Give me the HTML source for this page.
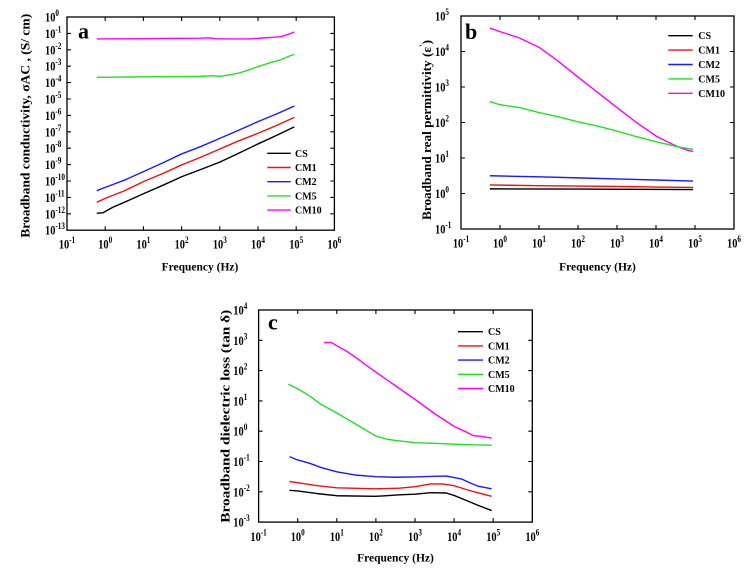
<!DOCTYPE html>
<html>
<head>
<meta charset="utf-8">
<style>
  html,body{margin:0;padding:0;background:#fff;}
  svg{display:block;}
  text{font-family:"Liberation Serif","Times New Roman",serif;font-weight:bold;fill:#000;}
  .tl{font-size:13px;}
  .sup{font-size:9px;}
  .lg{font-size:10px;}
  .ttl{font-size:11.5px;}
  .yt{font-size:13px;}
  .let{font-size:22px;}
  .frame{fill:none;stroke:#000;stroke-width:1.3;}
  .tick{fill:none;stroke:#000;stroke-width:1.1;}
  .s{fill:none;stroke-width:1.4;vector-effect:non-scaling-stroke;stroke-linejoin:round;}
</style>
</head>
<body>
<svg width="756" height="578" viewBox="0 0 756 578" xmlns="http://www.w3.org/2000/svg">
<rect width="756" height="578" fill="#fff"/>

<!-- ================= PANEL A ================= -->
<rect class="frame" x="67" y="17" width="267.4" height="213.2"/>
<path class="tick" d="
M105.2 230.2v-4 M143.4 230.2v-4 M181.6 230.2v-4 M219.8 230.2v-4 M258 230.2v-4 M296.2 230.2v-4
M105.2 17v4 M143.4 17v4 M181.6 17v4 M219.8 17v4 M258 17v4 M296.2 17v4
M67 33.4h4 M67 49.8h4 M67 66.2h4 M67 82.6h4 M67 99h4 M67 115.4h4 M67 131.8h4 M67 148.2h4 M67 164.6h4 M67 181h4 M67 197.4h4 M67 213.8h4
M334.4 33.4h-4 M334.4 49.8h-4 M334.4 66.2h-4 M334.4 82.6h-4 M334.4 99h-4 M334.4 115.4h-4 M334.4 131.8h-4 M334.4 148.2h-4 M334.4 164.6h-4 M334.4 181h-4 M334.4 197.4h-4 M334.4 213.8h-4"/>
<g transform="translate(45,21.5) scale(0.8,1)"><text class="tl">10<tspan class="sup" dy="-5.5">0</tspan></text></g>
<g transform="translate(45,37.9) scale(0.8,1)"><text class="tl">10<tspan class="sup" dy="-5.5">-1</tspan></text></g>
<g transform="translate(45,54.3) scale(0.8,1)"><text class="tl">10<tspan class="sup" dy="-5.5">-2</tspan></text></g>
<g transform="translate(45,70.7) scale(0.8,1)"><text class="tl">10<tspan class="sup" dy="-5.5">-3</tspan></text></g>
<g transform="translate(45,87.1) scale(0.8,1)"><text class="tl">10<tspan class="sup" dy="-5.5">-4</tspan></text></g>
<g transform="translate(45,103.5) scale(0.8,1)"><text class="tl">10<tspan class="sup" dy="-5.5">-5</tspan></text></g>
<g transform="translate(45,119.9) scale(0.8,1)"><text class="tl">10<tspan class="sup" dy="-5.5">-6</tspan></text></g>
<g transform="translate(45,136.3) scale(0.8,1)"><text class="tl">10<tspan class="sup" dy="-5.5">-7</tspan></text></g>
<g transform="translate(45,152.7) scale(0.8,1)"><text class="tl">10<tspan class="sup" dy="-5.5">-8</tspan></text></g>
<g transform="translate(45,169.1) scale(0.8,1)"><text class="tl">10<tspan class="sup" dy="-5.5">-9</tspan></text></g>
<g transform="translate(45,185.5) scale(0.8,1)"><text class="tl">10<tspan class="sup" dy="-5.5">-10</tspan></text></g>
<g transform="translate(45,201.9) scale(0.8,1)"><text class="tl">10<tspan class="sup" dy="-5.5">-11</tspan></text></g>
<g transform="translate(45,218.3) scale(0.8,1)"><text class="tl">10<tspan class="sup" dy="-5.5">-12</tspan></text></g>
<g transform="translate(45,234.7) scale(0.8,1)"><text class="tl">10<tspan class="sup" dy="-5.5">-13</tspan></text></g>
<g transform="translate(67,248.5) scale(0.8,1)"><text class="tl" text-anchor="middle">10<tspan class="sup" dy="-5.5">-1</tspan></text></g>
<g transform="translate(105.2,248.5) scale(0.8,1)"><text class="tl" text-anchor="middle">10<tspan class="sup" dy="-5.5">0</tspan></text></g>
<g transform="translate(143.4,248.5) scale(0.8,1)"><text class="tl" text-anchor="middle">10<tspan class="sup" dy="-5.5">1</tspan></text></g>
<g transform="translate(181.6,248.5) scale(0.8,1)"><text class="tl" text-anchor="middle">10<tspan class="sup" dy="-5.5">2</tspan></text></g>
<g transform="translate(219.8,248.5) scale(0.8,1)"><text class="tl" text-anchor="middle">10<tspan class="sup" dy="-5.5">3</tspan></text></g>
<g transform="translate(258,248.5) scale(0.8,1)"><text class="tl" text-anchor="middle">10<tspan class="sup" dy="-5.5">4</tspan></text></g>
<g transform="translate(296.2,248.5) scale(0.8,1)"><text class="tl" text-anchor="middle">10<tspan class="sup" dy="-5.5">5</tspan></text></g>
<g transform="translate(334.4,248.5) scale(0.8,1)"><text class="tl" text-anchor="middle">10<tspan class="sup" dy="-5.5">6</tspan></text></g>
<text class="ttl" x="200" y="270.5" text-anchor="middle">Frequency (Hz)</text>
<text class="yt" transform="translate(29.5,125.8) rotate(-90)" text-anchor="middle" textLength="224" lengthAdjust="spacingAndGlyphs">Broadband conductivity, σAC , (S/ cm)</text>
<text class="let" x="78" y="38.5">a</text>
<g transform="matrix(38.2 0 0 -16.4 105.2 17)">
<polyline class="s" stroke="#ff00ff" points="-0.22,-1.34 0.5,-1.33 1,-1.32 1.5,-1.31 2,-1.3 2.5,-1.29 2.7,-1.27 2.9,-1.32 3.2,-1.34 3.8,-1.34 4.1,-1.28 4.4,-1.24 4.6,-1.2 4.8,-1.05 4.95,-0.92"/>
<polyline class="s" stroke="#22e022" points="-0.22,-3.68 0.5,-3.66 1,-3.65 1.5,-3.64 2,-3.63 2.5,-3.62 2.8,-3.58 3,-3.62 3.2,-3.55 3.5,-3.42 3.8,-3.2 4,-3.02 4.3,-2.8 4.6,-2.6 4.8,-2.4 4.95,-2.28"/>
<polyline class="s" stroke="#1a1aff" points="-0.22,-10.59 0,-10.39 0.5,-9.95 1,-9.43 1.5,-8.9 2,-8.35 2.5,-7.9 3,-7.4 3.5,-6.9 4,-6.38 4.5,-5.9 4.95,-5.43"/>
<polyline class="s" stroke="#ee1111" points="-0.22,-11.3 0,-11.06 0.5,-10.6 1,-10.04 1.5,-9.55 2,-9.02 2.5,-8.55 3,-8.05 3.5,-7.55 4,-7.09 4.5,-6.6 4.95,-6.12"/>
<polyline class="s" stroke="#000" points="-0.22,-11.97 -0.05,-11.93 0.2,-11.6 0.5,-11.3 1,-10.78 1.5,-10.27 2,-9.74 2.5,-9.3 3,-8.85 3.5,-8.3 4,-7.74 4.5,-7.2 4.95,-6.7"/>
</g>
<g>
<line x1="267.3" y1="153.3" x2="290.7" y2="153.3" stroke="#000" stroke-width="1.4"/>
<line x1="267.3" y1="167.5" x2="290.7" y2="167.5" stroke="#ee1111" stroke-width="1.4"/>
<line x1="267.3" y1="181.7" x2="290.7" y2="181.7" stroke="#1a1aff" stroke-width="1.4"/>
<line x1="267.3" y1="195.9" x2="290.7" y2="195.9" stroke="#22e022" stroke-width="1.4"/>
<line x1="267.3" y1="210.1" x2="290.7" y2="210.1" stroke="#ff00ff" stroke-width="1.4"/>
<text class="lg" x="295" y="156.8">CS</text>
<text class="lg" x="295" y="171">CM1</text>
<text class="lg" x="295" y="185.2">CM2</text>
<text class="lg" x="295" y="199.4">CM5</text>
<text class="lg" x="295" y="213.6">CM10</text>
</g>

<!-- ================= PANEL B ================= -->
<rect class="frame" x="461" y="16" width="273" height="213"/>
<path class="tick" d="
M500 229v-4 M539 229v-4 M578 229v-4 M617 229v-4 M656 229v-4 M695 229v-4
M500 16v4 M539 16v4 M578 16v4 M617 16v4 M656 16v4 M695 16v4
M461 51.5h4 M461 87h4 M461 122.5h4 M461 158h4 M461 193.5h4
M734 51.5h-4 M734 87h-4 M734 122.5h-4 M734 158h-4 M734 193.5h-4"/>
<g transform="translate(435,20.5) scale(0.8,1)"><text class="tl">10<tspan class="sup" dy="-5.5">5</tspan></text></g>
<g transform="translate(435,56) scale(0.8,1)"><text class="tl">10<tspan class="sup" dy="-5.5">4</tspan></text></g>
<g transform="translate(435,91.5) scale(0.8,1)"><text class="tl">10<tspan class="sup" dy="-5.5">3</tspan></text></g>
<g transform="translate(435,127) scale(0.8,1)"><text class="tl">10<tspan class="sup" dy="-5.5">2</tspan></text></g>
<g transform="translate(435,162.5) scale(0.8,1)"><text class="tl">10<tspan class="sup" dy="-5.5">1</tspan></text></g>
<g transform="translate(435,198) scale(0.8,1)"><text class="tl">10<tspan class="sup" dy="-5.5">0</tspan></text></g>
<g transform="translate(435,233.5) scale(0.8,1)"><text class="tl">10<tspan class="sup" dy="-5.5">-1</tspan></text></g>
<g transform="translate(461,247.5) scale(0.8,1)"><text class="tl" text-anchor="middle">10<tspan class="sup" dy="-5.5">-1</tspan></text></g>
<g transform="translate(500,247.5) scale(0.8,1)"><text class="tl" text-anchor="middle">10<tspan class="sup" dy="-5.5">0</tspan></text></g>
<g transform="translate(539,247.5) scale(0.8,1)"><text class="tl" text-anchor="middle">10<tspan class="sup" dy="-5.5">1</tspan></text></g>
<g transform="translate(578,247.5) scale(0.8,1)"><text class="tl" text-anchor="middle">10<tspan class="sup" dy="-5.5">2</tspan></text></g>
<g transform="translate(617,247.5) scale(0.8,1)"><text class="tl" text-anchor="middle">10<tspan class="sup" dy="-5.5">3</tspan></text></g>
<g transform="translate(656,247.5) scale(0.8,1)"><text class="tl" text-anchor="middle">10<tspan class="sup" dy="-5.5">4</tspan></text></g>
<g transform="translate(695,247.5) scale(0.8,1)"><text class="tl" text-anchor="middle">10<tspan class="sup" dy="-5.5">5</tspan></text></g>
<g transform="translate(734,247.5) scale(0.8,1)"><text class="tl" text-anchor="middle">10<tspan class="sup" dy="-5.5">6</tspan></text></g>
<text class="ttl" x="597.5" y="270.5" text-anchor="middle">Frequency (Hz)</text>
<text class="yt" transform="translate(431,130) rotate(-90)" text-anchor="middle" textLength="180" lengthAdjust="spacingAndGlyphs">Broadband real permittivity  (ε<tspan font-size="9" dy="-5">'</tspan><tspan dy="5">)</tspan></text>
<text class="let" x="465" y="39">b</text>
<g transform="matrix(39 0 0 -35.5 500 193.5)">
<polyline class="s" stroke="#ff00ff" points="-0.26,4.66 0,4.56 0.5,4.38 1,4.12 1.5,3.72 2,3.28 2.5,2.85 3,2.42 3.5,2.0 4,1.62 4.3,1.45 4.6,1.3 4.8,1.22 4.95,1.18"/>
<polyline class="s" stroke="#22e022" points="-0.26,2.59 0,2.5 0.5,2.42 1,2.28 1.5,2.16 2,2.02 2.5,1.9 3,1.76 3.5,1.6 4,1.46 4.5,1.33 4.95,1.24"/>
<polyline class="s" stroke="#1a1aff" points="-0.26,0.5 1,0.47 2,0.44 3,0.41 4,0.38 4.95,0.35"/>
<polyline class="s" stroke="#ee1111" points="-0.26,0.24 1,0.22 2,0.21 3,0.2 4,0.18 4.95,0.17"/>
<polyline class="s" stroke="#000" points="-0.26,0.13 2,0.125 4.95,0.11"/>
</g>
<g>
<line x1="668.3" y1="35.7" x2="692.7" y2="35.7" stroke="#000" stroke-width="1.4"/>
<line x1="668.3" y1="50.1" x2="692.7" y2="50.1" stroke="#ee1111" stroke-width="1.4"/>
<line x1="668.3" y1="64.5" x2="692.7" y2="64.5" stroke="#1a1aff" stroke-width="1.4"/>
<line x1="668.3" y1="78.9" x2="692.7" y2="78.9" stroke="#22e022" stroke-width="1.4"/>
<line x1="668.3" y1="93.3" x2="692.7" y2="93.3" stroke="#ff00ff" stroke-width="1.4"/>
<text class="lg" x="698.3" y="39.2">CS</text>
<text class="lg" x="698.3" y="53.6">CM1</text>
<text class="lg" x="698.3" y="68">CM2</text>
<text class="lg" x="698.3" y="82.4">CM5</text>
<text class="lg" x="698.3" y="96.8">CM10</text>
</g>

<!-- ================= PANEL C ================= -->
<rect class="frame" x="258.6" y="310" width="273.7" height="212.1"/>
<path class="tick" d="
M297.7 522.1v-4 M336.8 522.1v-4 M375.9 522.1v-4 M415 522.1v-4 M454.1 522.1v-4 M493.2 522.1v-4
M297.7 310v4 M336.8 310v4 M375.9 310v4 M415 310v4 M454.1 310v4 M493.2 310v4
M258.6 340.3h4 M258.6 370.6h4 M258.6 400.9h4 M258.6 431.2h4 M258.6 461.5h4 M258.6 491.8h4
M532.3 340.3h-4 M532.3 370.6h-4 M532.3 400.9h-4 M532.3 431.2h-4 M532.3 461.5h-4 M532.3 491.8h-4"/>
<g transform="translate(233.3,314.5) scale(0.8,1)"><text class="tl">10<tspan class="sup" dy="-5.5">4</tspan></text></g>
<g transform="translate(233.3,344.8) scale(0.8,1)"><text class="tl">10<tspan class="sup" dy="-5.5">3</tspan></text></g>
<g transform="translate(233.3,375.1) scale(0.8,1)"><text class="tl">10<tspan class="sup" dy="-5.5">2</tspan></text></g>
<g transform="translate(233.3,405.4) scale(0.8,1)"><text class="tl">10<tspan class="sup" dy="-5.5">1</tspan></text></g>
<g transform="translate(233.3,435.7) scale(0.8,1)"><text class="tl">10<tspan class="sup" dy="-5.5">0</tspan></text></g>
<g transform="translate(233.3,466) scale(0.8,1)"><text class="tl">10<tspan class="sup" dy="-5.5">-1</tspan></text></g>
<g transform="translate(233.3,496.3) scale(0.8,1)"><text class="tl">10<tspan class="sup" dy="-5.5">-2</tspan></text></g>
<g transform="translate(233.3,526.6) scale(0.8,1)"><text class="tl">10<tspan class="sup" dy="-5.5">-3</tspan></text></g>
<g transform="translate(258.6,541) scale(0.8,1)"><text class="tl" text-anchor="middle">10<tspan class="sup" dy="-5.5">-1</tspan></text></g>
<g transform="translate(297.7,541) scale(0.8,1)"><text class="tl" text-anchor="middle">10<tspan class="sup" dy="-5.5">0</tspan></text></g>
<g transform="translate(336.8,541) scale(0.8,1)"><text class="tl" text-anchor="middle">10<tspan class="sup" dy="-5.5">1</tspan></text></g>
<g transform="translate(375.9,541) scale(0.8,1)"><text class="tl" text-anchor="middle">10<tspan class="sup" dy="-5.5">2</tspan></text></g>
<g transform="translate(415,541) scale(0.8,1)"><text class="tl" text-anchor="middle">10<tspan class="sup" dy="-5.5">3</tspan></text></g>
<g transform="translate(454.1,541) scale(0.8,1)"><text class="tl" text-anchor="middle">10<tspan class="sup" dy="-5.5">4</tspan></text></g>
<g transform="translate(493.2,541) scale(0.8,1)"><text class="tl" text-anchor="middle">10<tspan class="sup" dy="-5.5">5</tspan></text></g>
<g transform="translate(532.3,541) scale(0.8,1)"><text class="tl" text-anchor="middle">10<tspan class="sup" dy="-5.5">6</tspan></text></g>
<text class="ttl" x="395.5" y="561.5" text-anchor="middle">Frequency (Hz)</text>
<text class="yt" transform="translate(229.5,416.3) rotate(-90)" text-anchor="middle" textLength="213" lengthAdjust="spacingAndGlyphs">Broadband dielectric loss (tan δ)</text>
<text class="let" x="268" y="329.5">c</text>
<g transform="matrix(39.1 0 0 -30.3 297.7 431.2)">
<polyline class="s" stroke="#ff00ff" points="0.67,2.93 0.85,2.93 1,2.82 1.25,2.64 1.5,2.42 1.75,2.18 2,1.95 2.5,1.5 3,1.05 3.5,0.58 4,0.16 4.3,-0.02 4.5,-0.15 4.7,-0.17 4.96,-0.23"/>
<polyline class="s" stroke="#22e022" points="-0.24,1.55 0,1.4 0.31,1.16 0.6,0.88 1,0.6 1.5,0.22 2,-0.16 2.3,-0.27 2.53,-0.31 3,-0.38 3.5,-0.4 4,-0.43 4.5,-0.45 4.96,-0.46"/>
<polyline class="s" stroke="#1a1aff" points="-0.21,-0.84 0,-0.95 0.31,-1.06 0.6,-1.2 1,-1.34 1.5,-1.45 2,-1.5 2.5,-1.52 3,-1.51 3.5,-1.49 3.8,-1.48 4.2,-1.58 4.4,-1.7 4.6,-1.81 4.96,-1.9"/>
<polyline class="s" stroke="#ee1111" points="-0.21,-1.66 0,-1.7 0.5,-1.8 1,-1.87 2,-1.9 2.6,-1.88 3,-1.83 3.4,-1.74 3.7,-1.74 4,-1.8 4.3,-1.92 4.6,-2.03 4.96,-2.15"/>
<polyline class="s" stroke="#000" points="-0.21,-1.95 0,-1.97 0.5,-2.06 1,-2.13 2,-2.15 2.6,-2.1 3,-2.08 3.4,-2.03 3.8,-2.04 4,-2.12 4.3,-2.28 4.6,-2.44 4.96,-2.62"/>
</g>
<g>
<line x1="458" y1="331.7" x2="483" y2="331.7" stroke="#000" stroke-width="1.4"/>
<line x1="458" y1="345.9" x2="483" y2="345.9" stroke="#ee1111" stroke-width="1.4"/>
<line x1="458" y1="360.1" x2="483" y2="360.1" stroke="#1a1aff" stroke-width="1.4"/>
<line x1="458" y1="374.3" x2="483" y2="374.3" stroke="#22e022" stroke-width="1.4"/>
<line x1="458" y1="388.5" x2="483" y2="388.5" stroke="#ff00ff" stroke-width="1.4"/>
<text class="lg" x="488" y="335.2">CS</text>
<text class="lg" x="488" y="349.4">CM1</text>
<text class="lg" x="488" y="363.6">CM2</text>
<text class="lg" x="488" y="377.8">CM5</text>
<text class="lg" x="488" y="392">CM10</text>
</g>
</svg>
</body>
</html>
